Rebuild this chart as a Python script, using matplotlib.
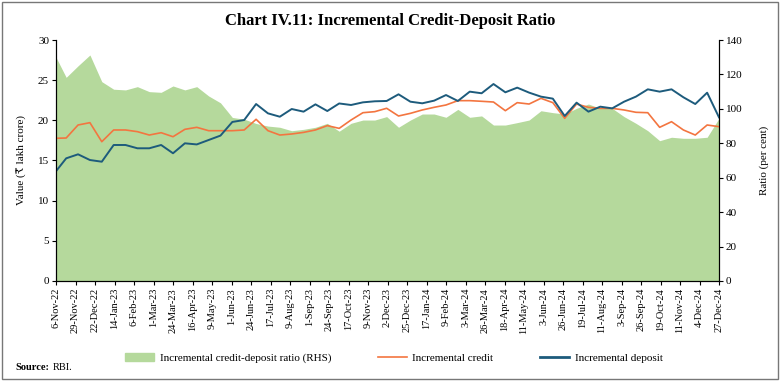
import pandas as pd
import matplotlib
matplotlib.use("Agg")
import matplotlib.pyplot as plt
from matplotlib.patches import Patch, Rectangle
from matplotlib.lines import Line2D

plt.rcParams['font.family'] = ['Liberation Serif', 'DejaVu Serif', 'DejaVu Sans']

# fortnightly reporting dates
dates = pd.date_range('2022-11-04', periods=57, freq='14D')

# incremental credit-deposit ratio (per cent, RHS)
ratio = [131.9, 118.3, 125.0, 131.3, 115.8, 111.4, 111.0, 112.9, 110.0, 109.6,
         113.3, 111.0, 112.9, 107.5, 103.5, 95.0, 94.0, 91.5, 90.0, 89.3,
         87.3, 88.1, 89.3, 91.6, 87.0, 91.6, 93.5, 93.5, 95.5, 89.3,
         93.5, 97.0, 97.0, 95.1, 99.7, 95.1, 95.9, 90.6, 90.6, 92.0,
         93.5, 98.9, 97.8, 97.0, 100.3, 102.8, 100.3, 100.3, 95.5, 91.6,
         87.3, 81.5, 83.5, 82.9, 82.9, 83.5, 94.5]

# incremental credit (lakh crore)
credit = [17.76, 17.8, 19.42, 19.71, 17.34, 18.8, 18.8, 18.59, 18.17, 18.46,
          17.96, 18.88, 19.13, 18.71, 18.71, 18.71, 18.8, 20.13, 18.71, 18.17,
          18.3, 18.5, 18.8, 19.34, 19.0, 20.04, 20.95, 21.08, 21.5, 20.54,
          20.87, 21.29, 21.62, 21.91, 22.45, 22.45, 22.37, 22.28, 21.2, 22.2,
          22.03, 22.74, 22.2, 20.25, 22.03, 21.62, 21.49, 21.49, 21.29, 21.0,
          20.95, 19.13, 19.83, 18.8, 18.17, 19.42, 19.21]

# incremental deposit (lakh crore)
deposit = [13.4, 15.27, 15.77, 15.06, 14.85, 16.93, 16.93, 16.52, 16.52, 16.93,
           15.9, 17.14, 17.0, 17.55, 18.1, 19.8, 20.04, 22.03, 20.87, 20.45,
           21.41, 21.08, 21.99, 21.16, 22.1, 21.91, 22.24, 22.37, 22.41, 23.24,
           22.32, 22.12, 22.45, 23.15, 22.41, 23.57, 23.37, 24.52, 23.49, 24.07,
           23.45, 22.95, 22.7, 20.54, 22.2, 21.08, 21.7, 21.49, 22.32, 22.95,
           23.86, 23.57, 23.86, 22.87, 22.03, 23.44, 20.37]

tick_dates = pd.date_range('2022-11-06', periods=35, freq='23D')
tick_labels = [f"{d.day}-{d.strftime('%b-%y')}" for d in tick_dates]

green = '#b5d99c'
orange = '#f37540'
blue = '#1d5b7c'

fig = plt.figure(figsize=(7.8, 3.81), dpi=100)
ax = fig.add_axes([0.0718, 0.2625, 0.85, 0.6325])
ax2 = ax.twinx()

ax2.fill_between(dates, ratio, 0, color=green, lw=0)
ax2.set_ylim(0, 140)
ax2.set_yticks(range(0, 141, 20))

ax.plot(dates, credit, color=orange, lw=1.2, solid_joinstyle='round')
ax.plot(dates, deposit, color=blue, lw=1.4, solid_joinstyle='round')
ax.set_ylim(0, 30)
ax.set_yticks(range(0, 31, 5))
ax.set_zorder(ax2.get_zorder() + 1)
ax.patch.set_visible(False)

ax.set_xlim(tick_dates[0], tick_dates[-1])
ax.set_xticks(tick_dates)
ax.set_xticklabels(tick_labels, rotation=90, fontsize=7.5)

for a in (ax, ax2):
    a.spines['top'].set_visible(False)
    a.tick_params(labelsize=8, length=3, width=0.8, pad=2)
ax.tick_params(axis='x', labelsize=7.5)

ax.set_ylabel('Value (₹ lakh crore)', fontsize=8, labelpad=8)
ax2.set_ylabel('Ratio (per cent)', fontsize=8, labelpad=12)

fig.text(0.5, 0.945, 'Chart IV.11: Incremental Credit-Deposit Ratio',
         ha='center', va='center', fontsize=12, fontweight='bold')

handles = [Patch(color=green), Line2D([], [], color=orange, lw=1.2),
           Line2D([], [], color=blue, lw=2)]
labels = ['Incremental credit-deposit ratio (RHS)', 'Incremental credit',
          'Incremental deposit']
fig.legend(handles, labels, loc='center', bbox_to_anchor=(0.505, 0.06), ncol=3,
           frameon=False, fontsize=8, handlelength=2.6, columnspacing=4.2,
           handletextpad=0.5)

fig.text(0.02, 0.035, 'Source:', fontsize=7.5, fontweight='bold', va='center')
fig.text(0.068, 0.035, 'RBI.', fontsize=7.5, va='center')

fig.patches.append(Rectangle((0.003, 0.005), 0.994, 0.99, transform=fig.transFigure,
                             fill=False, ec='#777777', lw=1))

fig.savefig('out.png', dpi=100)
